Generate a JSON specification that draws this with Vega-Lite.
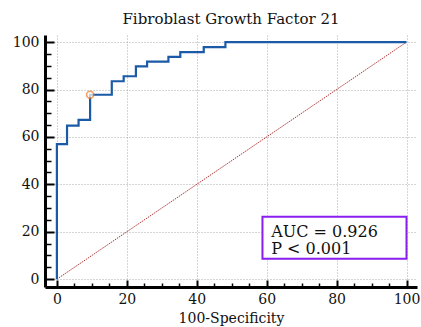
{
  "$schema": "https://vega.github.io/schema/vega-lite/v6.json",
  "autosize": {"type": "none"},
  "width": 372,
  "height": 252,
  "padding": {"left": 45, "top": 35, "right": 4, "bottom": 40},
  "background": "white",
  "title": {"text": "Fibroblast Growth Factor 21", "font": "DejaVu Serif", "fontSize": 15, "fontWeight": "normal", "color": "#111", "anchor": "middle", "offset": 8},
  "config": {
    "view": {"stroke": null}
  },
  "datasets": {
    "roc": [
      {"fpr": 0, "sens": 0},
      {"fpr": 0, "sens": 57},
      {"fpr": 2.9, "sens": 64.8},
      {"fpr": 6.2, "sens": 67.2},
      {"fpr": 9.5, "sens": 77.8},
      {"fpr": 15.7, "sens": 83.5},
      {"fpr": 19.1, "sens": 85.6},
      {"fpr": 22.6, "sens": 89.8},
      {"fpr": 25.8, "sens": 91.8},
      {"fpr": 31.9, "sens": 93.8},
      {"fpr": 35.3, "sens": 95.8},
      {"fpr": 42.0, "sens": 97.9},
      {"fpr": 48.2, "sens": 100},
      {"fpr": 100, "sens": 100}
    ],
    "diag": [{"fpr": 0, "sens": 0}, {"fpr": 100, "sens": 100}],
    "marker": [{"fpr": 9.5, "sens": 77.8}],
    "box": [{"x1": 58.8, "x2": 100, "y1": 8.6, "y2": 26.3}],
    "labels": [
      {"fpr": 61.3, "sens": 19.8, "label": "AUC = 0.926"},
      {"fpr": 61.3, "sens": 12.6, "label": "P < 0.001"}
    ]
  },
  "layer": [
    {
      "data": {"name": "diag"},
      "mark": {"type": "line", "color": "#b03030", "strokeWidth": 1, "strokeDash": [1.5, 1]},
      "encoding": {
        "x": {"field": "fpr", "type": "quantitative", "scale": {"domain": [-3.4, 103], "nice": false, "zero": false},
          "axis": {"title": "100-Specificity", "titleFont": "DejaVu Serif", "titleFontSize": 14, "titleFontWeight": "normal", "titleColor": "#111", "titlePadding": 5, "labelFont": "DejaVu Serif", "labelFontSize": 14, "labelColor": "#111", "values": [0, 20, 40, 60, 80, 100], "grid": true, "gridColor": "#aaa", "gridDash": [1, 2], "gridWidth": 1, "domainColor": "#000", "domainWidth": 3, "tickColor": "#000", "tickWidth": 2, "tickSize": -7, "labelPadding": 12, "labelFlush": false}},
        "y": {"field": "sens", "type": "quantitative", "scale": {"domain": [-3.3, 103], "nice": false, "zero": false},
          "axis": {"title": null, "labelFont": "DejaVu Serif", "labelFontSize": 14, "labelColor": "#111", "values": [0, 20, 40, 60, 80, 100], "grid": true, "gridColor": "#aaa", "gridDash": [1, 2], "gridWidth": 1, "domainColor": "#000", "domainWidth": 3, "tickColor": "#000", "tickWidth": 2, "tickSize": -9, "labelPadding": 15, "labelFlush": false}}
      }
    },
    {
      "data": {"name": "roc"},
      "mark": {"type": "line", "interpolate": "step-after", "color": "#1a5aa6", "strokeWidth": 2.2},
      "encoding": {
        "x": {"field": "fpr", "type": "quantitative", "axis": {"orient": "bottom", "values": [5, 10, 15, 25, 30, 35, 45, 50, 55, 65, 70, 75, 85, 90, 95], "labels": false, "grid": false, "domain": false, "tickColor": "#000", "tickWidth": 1.5, "tickSize": -4, "title": null}},
        "y": {"field": "sens", "type": "quantitative", "axis": {"orient": "left", "values": [5, 10, 15, 25, 30, 35, 45, 50, 55, 65, 70, 75, 85, 90, 95], "labels": false, "grid": false, "domain": false, "tickColor": "#000", "tickWidth": 1.5, "tickSize": -6, "title": null}}
      }
    },
    {
      "data": {"name": "marker"},
      "mark": {"type": "point", "shape": "circle", "size": 50, "filled": true, "fill": "white", "stroke": "#f07820", "strokeWidth": 1.6},
      "encoding": {
        "x": {"field": "fpr", "type": "quantitative", "axis": null},
        "y": {"field": "sens", "type": "quantitative", "axis": null}
      }
    },
    {
      "data": {"name": "box"},
      "mark": {"type": "rect", "fill": "white", "stroke": "#8a1ef0", "strokeWidth": 2},
      "encoding": {
        "x": {"field": "x1", "type": "quantitative", "axis": null},
        "x2": {"field": "x2"},
        "y": {"field": "y1", "type": "quantitative", "axis": null},
        "y2": {"field": "y2"}
      }
    },
    {
      "data": {"name": "labels"},
      "mark": {"type": "text", "font": "DejaVu Serif", "fontSize": 16, "align": "left", "baseline": "middle", "color": "#111"},
      "encoding": {
        "x": {"field": "fpr", "type": "quantitative", "axis": null},
        "y": {"field": "sens", "type": "quantitative", "axis": null},
        "text": {"field": "label"}
      }
    }
  ],
  "resolve": {"axis": {"x": "independent", "y": "independent"}}
}
